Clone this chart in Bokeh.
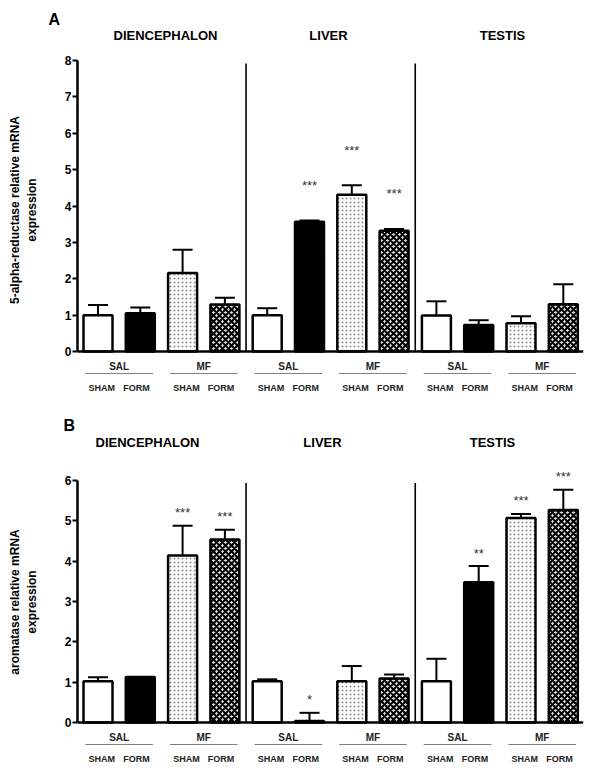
from bokeh.plotting import figure
from bokeh.models import Range1d, FixedTicker, Span, Whisker, TeeHead, ColumnDataSource
from bokeh.layouts import column
from bokeh.embed import file_html
from bokeh.resources import INLINE
from bokeh.core.properties import value

# ---------------- data ----------------
regions = ["DIENCEPHALON", "LIVER", "TESTIS"]
treatments = ["SAL", "MF"]
surgeries = ["SHAM", "FORM"]

a_mean = [1.00, 1.05, 2.16, 1.29, 1.00, 3.57, 4.31, 3.32, 0.99, 0.73, 0.78, 1.30]
a_err = [0.28, 0.16, 0.64, 0.19, 0.19, 0.03, 0.26, 0.05, 0.39, 0.13, 0.19, 0.55]
a_sig = ["", "", "", "", "", "***", "***", "***", "", "", "", ""]
a_ticks = [0, 1, 2, 3, 4, 5, 6, 7, 8]

b_mean = [1.02, 1.13, 4.14, 4.54, 1.02, 0.04, 1.02, 1.09, 1.02, 3.48, 5.07, 5.27]
b_err = [0.10, 0.00, 0.74, 0.24, 0.05, 0.20, 0.38, 0.10, 0.56, 0.40, 0.10, 0.50]
b_sig = ["", "", "***", "***", "", "*", "", "", "", "**", "***", "***"]
b_ticks = [0, 1, 2, 3, 4, 5, 6]

FONT = "Liberation Sans"

# ---------------- layout helpers (page pixels) ----------------
X_FIRST = 97.5   # page x of first bar centre
X_PPU = 42.3     # pixels per bar slot
FRAME_L, FRAME_R, PAGE_W = 77, 583, 600


def xd(px):
    return (px - X_FIRST) / X_PPU


STYLES = [
    dict(fill_color="white"),
    dict(fill_color="black"),
    dict(fill_color="white", hatch_pattern="dot", hatch_color="#8c8c8c", hatch_scale=4, hatch_weight=1),
    dict(fill_color="#e2e2e2", hatch_pattern="diagonal_cross", hatch_color="black", hatch_scale=6, hatch_weight=2),
]


def make_panel(letter, ylabel, mean, err, sig, ticks, fig_top, fig_bot, frame_top,
               zero_y, ppu, star_gap, letter_x, title_y, title_xs):
    def yd(py):
        return (zero_y - py) / ppu

    p = figure(width=PAGE_W, height=fig_bot - fig_top,
               x_range=Range1d(xd(FRAME_L), xd(FRAME_R)),
               y_range=Range1d(yd(fig_bot), yd(frame_top)),
               output_backend="svg", toolbar_location=None,
               min_border_left=FRAME_L, min_border_right=PAGE_W - FRAME_R,
               min_border_top=frame_top - fig_top, min_border_bottom=0)
    p.xaxis.visible = False
    p.xgrid.visible = False
    p.ygrid.visible = False
    p.outline_line_color = None
    p.background_fill_color = "white"
    p.border_fill_color = "white"

    # panel letter as the figure title, pushed left of the frame
    p.title.text = letter
    p.title.align = "left"
    p.title.vertical_align = "bottom"
    p.title.standoff = 0
    p.title.offset = letter_x - FRAME_L - 5
    p.title.text_font = FONT
    p.title.text_font_style = "bold"
    p.title.text_font_size = "16px"
    p.title.text_color = "black"

    ymax = ticks[-1]
    ax = p.yaxis[0]
    ax.ticker = FixedTicker(ticks=ticks)
    ax.bounds = (ticks[0], ymax)
    ax.axis_line_width = 2.5
    ax.axis_line_color = "black"
    ax.major_tick_line_width = 2
    ax.major_tick_out = 5
    ax.major_tick_in = 0
    ax.minor_tick_line_color = None
    ax.major_label_standoff = 1
    ax.major_label_text_font = FONT
    ax.major_label_text_font_style = "bold"
    ax.major_label_text_font_size = "12px"
    ax.major_label_text_color = "black"
    ax.axis_label = ylabel
    ax.axis_label_text_font = FONT
    ax.axis_label_text_font_style = "bold"
    ax.axis_label_text_font_size = "12px"
    ax.axis_label_text_color = "black"
    ax.axis_label_standoff = 23

    n = len(mean)
    xs = list(range(n))
    width = 29 / X_PPU
    for s, style in enumerate(STYLES):
        idx = [i for i in xs if i % 4 == s]
        src = ColumnDataSource(dict(x=[xs[i] for i in idx], top=[mean[i] for i in idx]))
        p.vbar(x="x", top="top", bottom=0, width=width, source=src,
               line_color="black", line_width=2.5, **style)

    wsrc = ColumnDataSource(dict(x=xs, lower=mean, upper=[m + e for m, e in zip(mean, err)]))
    p.add_layout(Whisker(base="x", lower="lower", upper="upper", source=wsrc,
                         line_color="black", line_width=2,
                         lower_head=None,
                         upper_head=TeeHead(size=20, line_width=2, line_color="black")))

    # significance stars
    sx = [i for i in xs if sig[i]]
    sy = [mean[i] + err[i] + star_gap / ppu for i in sx]
    p.text(x=sx, y=sy, text=[sig[i] for i in sx], text_align="center", text_baseline="middle",
           y_offset=3, text_font=value(FONT), text_font_size="13px", text_color="#333333")

    # region dividers
    ngrp = len(regions)
    dx = [4 * k + 3.5 for k in range(ngrp - 1)]
    p.segment(x0=dx, y0=[0] * len(dx), x1=dx, y1=[ymax * 0.99] * len(dx),
              line_color="black", line_width=1.6)

    # baseline (x axis)
    p.add_layout(Span(location=0, dimension="width", line_color="black", line_width=2.5))

    # group labels under the axis
    pc = [2 * k + 0.5 for k in range(n // 2)]
    p.text(x=pc, y=[-15 / ppu] * len(pc), text=[treatments[k % 2] for k in range(len(pc))],
           text_align="center", text_baseline="middle", text_font=value(FONT),
           text_font_style="bold", text_font_size="10px", text_color="#222222")
    p.segment(x0=[c - 0.8 for c in pc], y0=[-22 / ppu] * len(pc),
              x1=[c + 0.8 for c in pc], y1=[-22 / ppu] * len(pc),
              line_color="#808080", line_width=1.2)
    lx = []
    for c in pc:
        lx += [c - 0.41, c + 0.41]
    p.text(x=lx, y=[-36 / ppu] * len(lx), text=[surgeries[i % 2] for i in range(len(lx))],
           text_align="center", text_baseline="middle", text_font=value(FONT),
           text_font_style="bold", text_font_size="9px", text_color="#222222")

    # region titles
    p.text(x=[xd(tx) for tx in title_xs], y=[yd(title_y)] * len(regions), text=regions,
           text_align="center", text_baseline="middle", text_font=value(FONT),
           text_font_style="bold", text_font_size="13px", text_color="black")
    return p


pa = make_panel("A", "5-alpha-reductase relative mRNA\nexpression", a_mean, a_err, a_sig, a_ticks,
                fig_top=0, fig_bot=392, frame_top=27, zero_y=351, ppu=36.375, star_gap=38,
                letter_x=53, title_y=35, title_xs=(165, 328, 502))
pb = make_panel("B", "aromatase relative mRNA\nexpression", b_mean, b_err, b_sig, b_ticks,
                fig_top=392, fig_bot=770, frame_top=433, zero_y=722, ppu=40.33, star_gap=16,
                letter_x=68, title_y=442, title_xs=(147, 322, 492))

layout = column(pa, pb, spacing=0)
open("out.html", "w").write(file_html(layout, INLINE))
